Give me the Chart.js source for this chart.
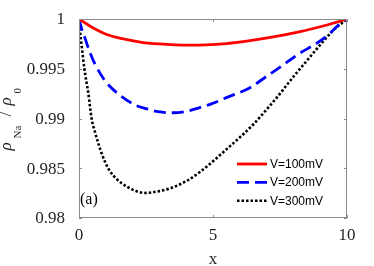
<!DOCTYPE html>
<html>
<head>
<meta charset="utf-8">
<script src="https://cdn.jsdelivr.net/npm/chart.js@4.4.1/dist/chart.umd.min.js"></script>
<style>
  html, body { margin: 0; padding: 0; background: #fff; }
  #chart { display: block; }
</style>
</head>
<body>
<canvas id="chart" width="374" height="266"></canvas>
<script>
/* ── DATA ─────────────────────────────────────────────────── */
const seriesNames = ['V=100mV', 'V=200mV', 'V=300mV'];

const xRed = [0, 0.5, 1.09, 1.7, 2.34, 3.0, 3.58, 4.2, 4.7, 5.5, 6.38, 7.3, 8.25, 9.0, 9.48, 10];
const yRed = [1, 0.99915, 0.99839, 0.99797, 0.99766, 0.99749, 0.9974, 0.99737, 0.99739, 0.99753, 0.99782, 0.99822, 0.99873, 0.99922, 0.99957, 1];

const xBlue = [0, 0.1, 0.22, 0.4, 0.6, 0.97, 1.47, 2.09, 2.5, 2.96, 3.5, 4.0, 4.45, 4.89, 5.5, 6.38, 7.0, 7.62, 8.2, 8.87, 9.3, 9.62, 10];
const yBlue = [1, 0.999, 0.9981, 0.9967, 0.99545, 0.9938, 0.99245, 0.99136, 0.991, 0.99068, 0.99058, 0.99072, 0.99105, 0.99142, 0.9921, 0.9931, 0.99424, 0.99538, 0.9965, 0.99756, 0.9984, 0.99923, 1];

const xBlack = [0, 0.04, 0.1, 0.2, 0.35, 0.47, 0.6, 0.72, 0.9, 1.09, 1.3, 1.59, 2.0, 2.46, 3.0, 3.4, 4.0, 4.5, 5.0, 5.5, 6.0, 6.5, 7.0, 7.5, 8.0, 8.5, 9.0, 9.5, 10];
const yBlack = [1, 0.9987, 0.9973, 0.995, 0.9925, 0.99, 0.9886, 0.9875, 0.9861, 0.985, 0.9842, 0.9835, 0.98285, 0.98252, 0.9827, 0.98298, 0.9837, 0.9846, 0.9857, 0.9869, 0.9881, 0.9894, 0.9909, 0.9925, 0.9942, 0.9958, 0.9974, 0.9989, 1];

const xTicks = [0, 5, 10];
const xTickLabels = ['0', '5', '10'];
const yTicks = [0.98, 0.985, 0.99, 0.995, 1];
const yTickLabels = ['0.98', '0.985', '0.99', '0.995', '1'];

/* ── STYLE ────────────────────────────────────────────────── */
const SERIF = "'Liberation Serif', serif";
const SANS = "'Liberation Sans', sans-serif";
const AXIS_COLOR = '#8c8c8c';
const TEXT_COLOR = '#262626';

const styles = [
    { color: '#ff0000', width: 2.8, dash: [] },
    { color: '#0000ff', width: 2.8, dash: [12, 6] },
    { color: '#000000', width: 2.6, dash: [2.5, 2] }
];

const toPoints = (xs, ys) => xs.map((x, i) => ({ x: x, y: ys[i] }));
const seriesData = [toPoints(xRed, yRed), toPoints(xBlue, yBlue), toPoints(xBlack, yBlack)];

/* ── DECORATIONS: box, inward ticks, legend, labels ──────── */
const decorations = {
    id: 'decorations',
    afterDatasetsDraw(chart) {
        const ctx = chart.ctx;
        const a = chart.chartArea;
        const xs = chart.scales.x, ys = chart.scales.y;
        ctx.save();

        /* box */
        ctx.strokeStyle = AXIS_COLOR;
        ctx.lineWidth = 1;
        ctx.setLineDash([]);
        ctx.strokeRect(Math.round(a.left) + 0.5, Math.round(a.top) + 0.5,
            Math.round(a.right - a.left) - 1, Math.round(a.bottom - a.top) - 1);

        /* inward ticks */
        const tl = 3;
        ctx.beginPath();
        yTicks.forEach(v => {
            const py = Math.round(ys.getPixelForValue(v)) + 0.5;
            ctx.moveTo(a.left, py); ctx.lineTo(a.left + tl, py);
            ctx.moveTo(a.right, py); ctx.lineTo(a.right - tl, py);
        });
        xTicks.forEach(v => {
            const px = Math.round(xs.getPixelForValue(v)) + 0.5;
            ctx.moveTo(px, a.bottom); ctx.lineTo(px, a.bottom - tl);
            ctx.moveTo(px, a.top); ctx.lineTo(px, a.top + tl);
        });
        ctx.stroke();

        /* legend */
        const lx0 = a.right - 110, lx1 = a.right - 80;
        const rowY = [a.bottom - 54, a.bottom - 35.7, a.bottom - 17.3];
        ctx.font = '12px ' + SANS;
        ctx.textBaseline = 'middle';
        ctx.textAlign = 'left';
        seriesNames.forEach((name, i) => {
            const s = styles[i];
            ctx.strokeStyle = s.color;
            ctx.lineWidth = s.width;
            ctx.setLineDash(s.dash);
            ctx.beginPath();
            ctx.moveTo(lx0, rowY[i]);
            ctx.lineTo(lx1, rowY[i]);
            ctx.stroke();
            ctx.fillStyle = '#000';
            ctx.fillText(name, lx1 + 3, rowY[i] + 0.5);
        });
        ctx.setLineDash([]);

        /* panel label */
        ctx.font = '16px ' + SERIF;
        ctx.textBaseline = 'alphabetic';
        ctx.fillStyle = '#000';
        ctx.fillText('(a)', a.left + 1, a.bottom - 14);

        /* y axis title: rho_Na / rho_0 */
        ctx.translate(11, (a.top + a.bottom) / 2 + 32);
        ctx.rotate(-Math.PI / 2);
        ctx.fillStyle = TEXT_COLOR;
        const parts = [
            { t: 'ρ', s: 0, f: 'italic 17px ', dy: 0 },
            { t: 'Na', s: 12, f: '11px ', dy: 9.5 },
            { t: '/', s: 34, f: '17px ', dy: 0 },
            { t: 'ρ', s: 45, f: 'italic 17px ', dy: 0 },
            { t: '0', s: 57, f: '11px ', dy: 9.5 }
        ];
        parts.forEach(p => {
            ctx.font = p.f + SERIF;
            ctx.fillText(p.t, p.s, p.dy);
        });
        ctx.restore();
    }
};

/* ── CHART ────────────────────────────────────────────────── */
new Chart(document.getElementById('chart').getContext('2d'), {
    type: 'line',
    data: {
        datasets: seriesNames.map((name, i) => ({
            label: name,
            data: seriesData[i],
            borderColor: styles[i].color,
            borderWidth: styles[i].width,
            borderDash: styles[i].dash,
            borderCapStyle: 'butt',
            pointRadius: 0,
            fill: false,
            cubicInterpolationMode: 'monotone'
        }))
    },
    options: {
        responsive: false,
        animation: false,
        events: [],
        layout: { padding: { top: 19, right: 27, left: 0, bottom: 0 } },
        plugins: { legend: { display: false }, tooltip: { enabled: false } },
        scales: {
            x: {
                type: 'linear',
                min: 0, max: 10,
                grid: { display: false, drawTicks: false, tickLength: 0 },
                border: { display: false },
                afterBuildTicks: s => { s.ticks = xTicks.map(v => ({ value: v })); },
                afterFit: s => { s.height = 48; s.paddingLeft = 0; s.paddingRight = 0; },
                ticks: {
                    padding: 7,
                    color: TEXT_COLOR,
                    font: { family: SERIF, size: 17 },
                    maxRotation: 0,
                    callback: (v) => xTickLabels[xTicks.indexOf(v)]
                },
                title: {
                    display: true, text: 'x', color: TEXT_COLOR,
                    font: { family: SERIF, size: 17, lineHeight: 0.76 },
                    padding: 0
                }
            },
            y: {
                type: 'linear',
                min: 0.98, max: 1,
                grid: { display: false, drawTicks: false, tickLength: 0 },
                border: { display: false },
                afterBuildTicks: s => { s.ticks = yTicks.map(v => ({ value: v })); },
                afterFit: s => { s.width = 79; s.paddingTop = 0; s.paddingBottom = 0; },
                ticks: {
                    padding: 14,
                    labelOffset: 1,
                    color: TEXT_COLOR,
                    font: { family: SERIF, size: 17 },
                    callback: (v) => yTickLabels[yTicks.indexOf(v)]
                }
            }
        }
    },
    plugins: [decorations]
});
</script>
</body>
</html>
